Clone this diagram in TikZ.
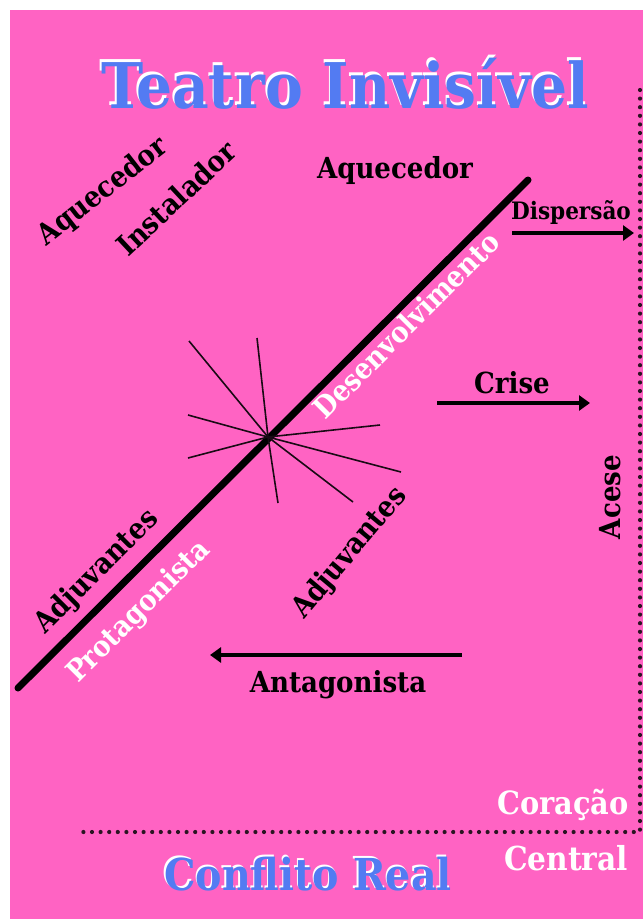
\documentclass[tikz,border=0pt]{standalone}
\usepackage{fontspec}
\setmainfont{DejaVu Serif}
\newfontfamily\condfont{DejaVu Serif Condensed}
\usetikzlibrary{arrows.meta}

\definecolor{bgpink}{HTML}{FF63C3}
\definecolor{titleblue}{HTML}{537BF2}
\definecolor{dotcol}{HTML}{2B1422}

% blue text with a white copy slightly above it
\newcommand{\shadowed}[1]{\leavevmode\rlap{\kern-1.5pt\raisebox{2.5pt}{\color{white}#1}}{\color{titleblue}#1}}

\tikzset{
  lbl/.style={inner sep=0pt, text=black, font=\condfont\bfseries\fontsize{29}{29}\selectfont},
  wlbl/.style={lbl, text=white},
  smalllbl/.style={lbl, font=\condfont\bfseries\fontsize{24}{24}\selectfont},
  bigtitle/.style={inner sep=0pt, font=\condfont\bfseries\fontsize{63}{63}\selectfont},
  subtitle/.style={inner sep=0pt, font=\condfont\bfseries\fontsize{44}{44}\selectfont},
  mainline/.style={line width=7pt, line cap=round},
  bigarrow/.style={line width=4pt, -{Triangle[length=11pt,width=15pt]}},
  spoke/.style={line width=1.6pt, draw=black!90!bgpink},
  dotline/.style={line width=4.2pt, line cap=round, dash pattern=on 0pt off 8.6pt, draw=dotcol},
}

\begin{document}
\begin{tikzpicture}[x=1pt,y=-1pt]
\useasboundingbox (0,0) rectangle (643,919);
\fill[bgpink] (10,10) rectangle (643,919);

% title
\node[bigtitle] (title) at (345,82) {\shadowed{Teatro Invisível}};

% dotted frame
\coordinate (frameTop) at (640,90);
\coordinate (frameCorner) at (640,832);
\coordinate (frameLeft) at (78,832);
\draw[dotline] (frameTop) -- (frameCorner) -- (frameLeft);

% main diagonal
\coordinate (lineLow) at (18,688);
\coordinate (lineHigh) at (528,180);
\draw[mainline] (lineLow) -- (lineHigh);

% star of crossing lines
\coordinate (hub) at (268,437);
\coordinate (s1) at (189,341);
\coordinate (s2) at (257,338);
\coordinate (s3) at (188,415);
\coordinate (s4) at (188,458);
\coordinate (s5) at (380,425);
\coordinate (s6) at (401,472);
\coordinate (s7) at (353,502);
\coordinate (s8) at (278,503);
\foreach \s in {s1,s2,s3,s4,s5,s6,s7,s8}
  \draw[spoke] (hub) -- (\s);

% labels along the line
\node[lbl, rotate=38] (aqLeft) at (103,192) {Aquecedor};
\node[lbl, rotate=43] (inst) at (176,198) {Instalador};
\node[lbl] (aqTop) at (395,170) {Aquecedor};
\node[wlbl, rotate=45] (desenv) at (406,325) {Desenvolvimento};
\node[lbl, rotate=45] (adjLeft) at (97,572) {Adjuvantes};
\node[wlbl, rotate=45] (prot) at (139,612) {Protagonista};
\node[lbl, rotate=50] (adjRight) at (350,553) {Adjuvantes};

% arrows
\node[smalllbl] (disp) at (571,212) {Dispersão};
\coordinate (dispFrom) at (512,233);
\coordinate (dispTo) at (634,233);
\draw[bigarrow] (dispFrom) -- (dispTo);

\node[lbl] (crise) at (512,383) {Crise};
\coordinate (criseFrom) at (437,403);
\coordinate (criseTo) at (590,403);
\draw[bigarrow] (criseFrom) -- (criseTo);

\node[lbl, rotate=90] (acese) at (610,497) {Acese};

\coordinate (antFrom) at (462,655);
\coordinate (antTo) at (210,655);
\draw[bigarrow] (antFrom) -- (antTo);
\node[lbl] (antag) at (338,685) {Antagonista};

% bottom
\node[wlbl, font=\condfont\bfseries\fontsize{32}{32}\selectfont] (cor) at (563,805) {Coração};
\node[wlbl, font=\condfont\bfseries\fontsize{33}{33}\selectfont] (central) at (566,858) {Central};
\node[subtitle] (confl) at (308,873) {\shadowed{Conflito Real}};
\end{tikzpicture}
\end{document}
